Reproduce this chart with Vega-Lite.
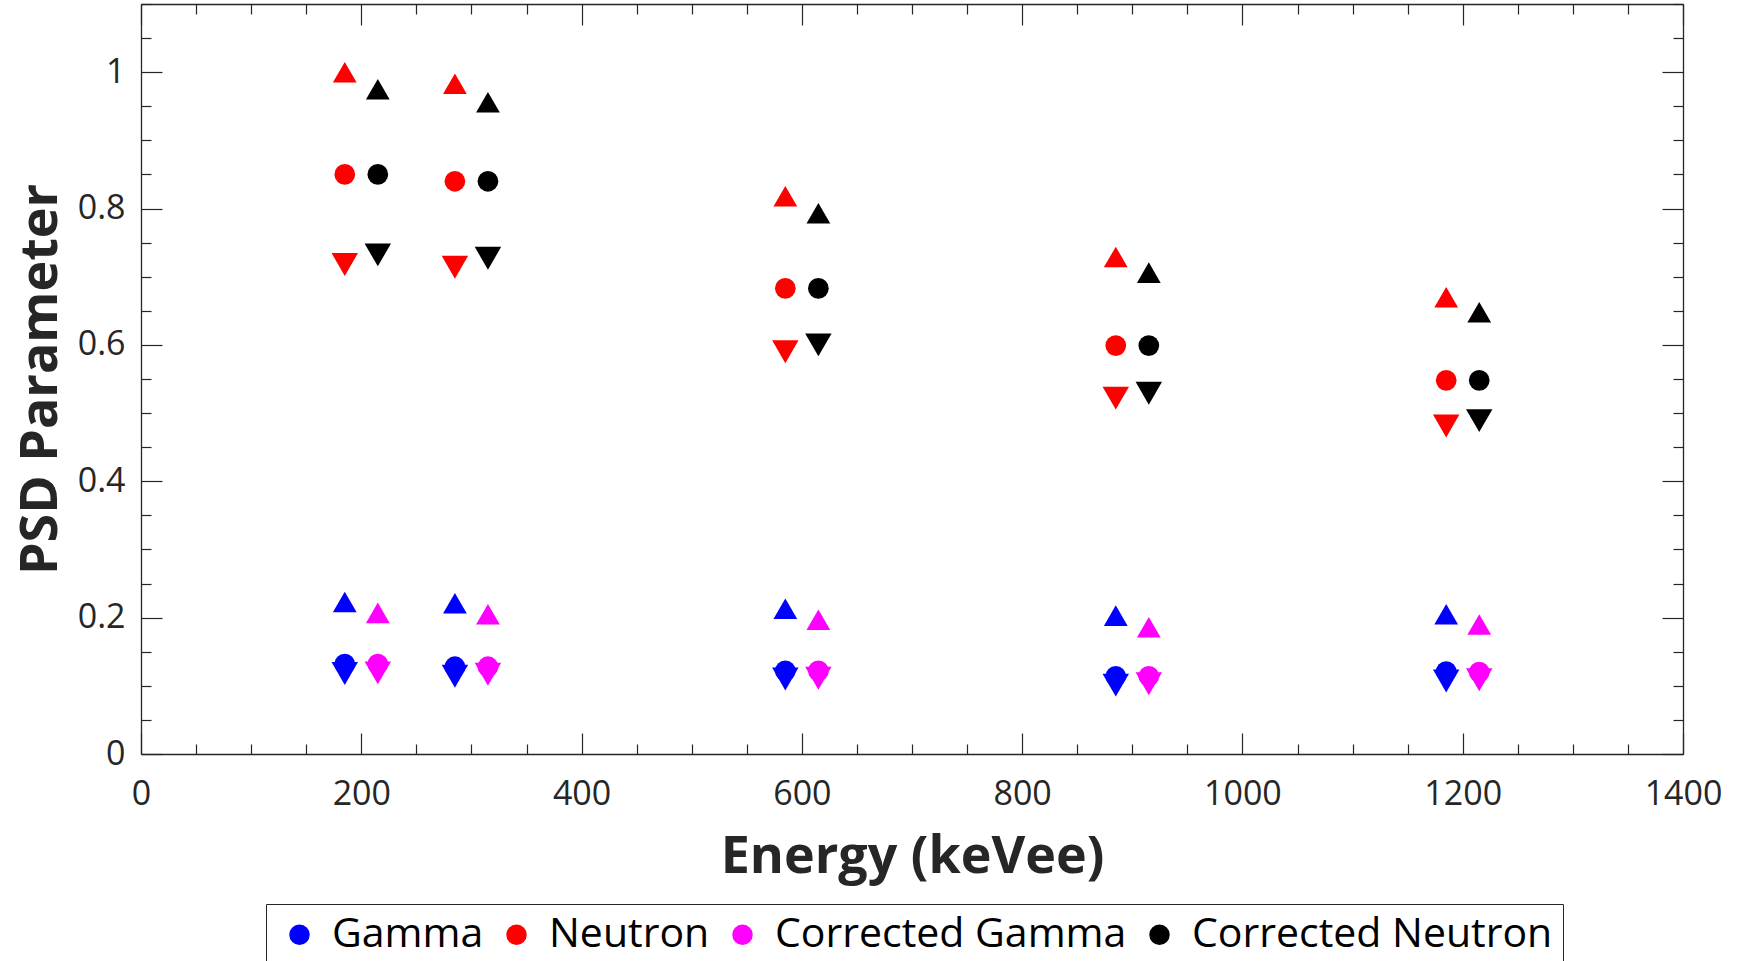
{
  "$schema": "https://vega.github.io/schema/vega-lite/v6.json",
  "width": 1542,
  "height": 750,
  "autosize": {"type": "none"},
  "padding": {"left": 141, "top": 4, "right": 58, "bottom": 207},
  "background": "white",
  "config": {
    "view": {"stroke": null},
    "axis": {"grid": false, "domainColor": "#262626", "tickColor": "#262626", "domainWidth": 1.3, "tickWidth": 1.2}
  },
  "data": {
    "values": [
      {"E": 185, "series": "Gamma", "upper": 0.223, "mean": 0.132, "lower": 0.118},
      {"E": 285, "series": "Gamma", "upper": 0.221, "mean": 0.128, "lower": 0.114},
      {"E": 585, "series": "Gamma", "upper": 0.213, "mean": 0.122, "lower": 0.110},
      {"E": 885, "series": "Gamma", "upper": 0.203, "mean": 0.114, "lower": 0.101},
      {"E": 1185, "series": "Gamma", "upper": 0.205, "mean": 0.121, "lower": 0.107},
      {"E": 185, "series": "Neutron", "upper": 1.0, "mean": 0.850, "lower": 0.718},
      {"E": 285, "series": "Neutron", "upper": 0.983, "mean": 0.840, "lower": 0.714},
      {"E": 585, "series": "Neutron", "upper": 0.818, "mean": 0.683, "lower": 0.590},
      {"E": 885, "series": "Neutron", "upper": 0.729, "mean": 0.599, "lower": 0.522},
      {"E": 1185, "series": "Neutron", "upper": 0.670, "mean": 0.548, "lower": 0.481},
      {"E": 215, "series": "Corrected Gamma", "upper": 0.207, "mean": 0.132, "lower": 0.119},
      {"E": 315, "series": "Corrected Gamma", "upper": 0.205, "mean": 0.128, "lower": 0.117},
      {"E": 615, "series": "Corrected Gamma", "upper": 0.197, "mean": 0.122, "lower": 0.111},
      {"E": 915, "series": "Corrected Gamma", "upper": 0.186, "mean": 0.114, "lower": 0.103},
      {"E": 1215, "series": "Corrected Gamma", "upper": 0.190, "mean": 0.120, "lower": 0.109},
      {"E": 215, "series": "Corrected Neutron", "upper": 0.975, "mean": 0.850, "lower": 0.732},
      {"E": 315, "series": "Corrected Neutron", "upper": 0.956, "mean": 0.840, "lower": 0.727},
      {"E": 615, "series": "Corrected Neutron", "upper": 0.793, "mean": 0.683, "lower": 0.600},
      {"E": 915, "series": "Corrected Neutron", "upper": 0.706, "mean": 0.599, "lower": 0.529},
      {"E": 1215, "series": "Corrected Neutron", "upper": 0.648, "mean": 0.548, "lower": 0.489}
    ]
  },
  "transform": [{"fold": ["upper", "mean", "lower"], "as": ["stat", "value"]}],
  "layer": [
    {
      "mark": {"type": "point", "filled": true, "opacity": 1},
      "encoding": {
        "x": {
          "field": "E", "type": "quantitative",
          "scale": {"domain": [0, 1400], "nice": false, "zero": false},
          "axis": {
            "orient": "bottom",
            "values": [0,50,100,150,200,250,300,350,400,450,500,550,600,650,700,750,800,850,900,950,1000,1050,1100,1150,1200,1250,1300,1350,1400],
            "tickSize": {"condition": {"test": "datum.value % 200 == 0", "value": -21}, "value": -10},
            "labelExpr": "datum.value % 200 == 0 ? format(datum.value, 'd') : ''",
            "labelOverlap": false, "labelFlush": false,
            "labelFont": "Open Sans", "labelFontSize": 34, "labelColor": "#262626", "labelPadding": 44,
            "title": "Energy (keVee)", "titleFont": "Open Sans", "titleFontWeight": "bold", "titleFontSize": 52,
            "titleColor": "#262626", "titlePadding": 9
          }
        },
        "y": {
          "field": "value", "type": "quantitative",
          "scale": {"domain": [0, 1.1], "nice": false, "zero": false},
          "axis": {
            "orient": "left",
            "values": [0,0.05,0.1,0.15,0.2,0.25,0.3,0.35,0.4,0.45,0.5,0.55,0.6,0.65,0.7,0.75,0.8,0.85,0.9,0.95,1.0,1.05,1.1],
            "tickSize": {"condition": {"test": "abs(round(datum.value*20)) % 4 == 0", "value": -21}, "value": -10},
            "labelExpr": "abs(round(datum.value*20)) % 4 == 0 ? format(datum.value, '~g') : ''",
            "labelOverlap": false, "labelFlush": false,
            "labelFont": "Open Sans", "labelFontSize": 34, "labelColor": "#262626", "labelPadding": 37,
            "title": "PSD Parameter", "titleFont": "Open Sans", "titleFontWeight": "bold", "titleFontSize": 52,
            "titleColor": "#262626", "titlePadding": 10
          }
        },
        "color": {
          "field": "series", "type": "nominal",
          "scale": {"domain": ["Gamma", "Neutron", "Corrected Gamma", "Corrected Neutron"], "range": ["#0000ff", "#ff0000", "#ff00ff", "#000000"]},
          "legend": {
            "orient": "none", "legendX": 125, "legendY": 900, "direction": "horizontal", "title": null,
            "labelFont": "Open Sans", "labelFontSize": 41, "labelColor": "#000000", "labelLimit": 0,
            "symbolType": "circle", "symbolSize": 420, "symbolStrokeWidth": 0,
            "labelOffset": 12, "columnPadding": 9, "padding": 10, "symbolOffset": 3,
            "strokeColor": "#262626", "fillColor": "white"
          }
        },
        "shape": {
          "field": "stat", "type": "nominal",
          "scale": {"domain": ["mean", "upper", "lower"], "range": ["circle", "triangle-up", "triangle-down"]},
          "legend": null
        },
        "size": {
          "field": "stat", "type": "nominal",
          "scale": {"domain": ["mean", "upper", "lower"], "range": [430, 700, 700]},
          "legend": null
        }
      }
    },
    {
      "mark": {"type": "point", "opacity": 0},
      "encoding": {
        "x": {
          "field": "E", "type": "quantitative",
          "axis": {
            "orient": "top",
            "values": [0,50,100,150,200,250,300,350,400,450,500,550,600,650,700,750,800,850,900,950,1000,1050,1100,1150,1200,1250,1300,1350,1400],
            "tickSize": {"condition": {"test": "datum.value % 200 == 0", "value": -21}, "value": -10},
            "labels": false, "title": null
          }
        },
        "y": {
          "field": "value", "type": "quantitative",
          "axis": {
            "orient": "right",
            "values": [0,0.05,0.1,0.15,0.2,0.25,0.3,0.35,0.4,0.45,0.5,0.55,0.6,0.65,0.7,0.75,0.8,0.85,0.9,0.95,1.0,1.05,1.1],
            "tickSize": {"condition": {"test": "abs(round(datum.value*20)) % 4 == 0", "value": -21}, "value": -10},
            "labels": false, "title": null
          }
        }
      }
    }
  ],
  "resolve": {"axis": {"x": "independent", "y": "independent"}}
}
